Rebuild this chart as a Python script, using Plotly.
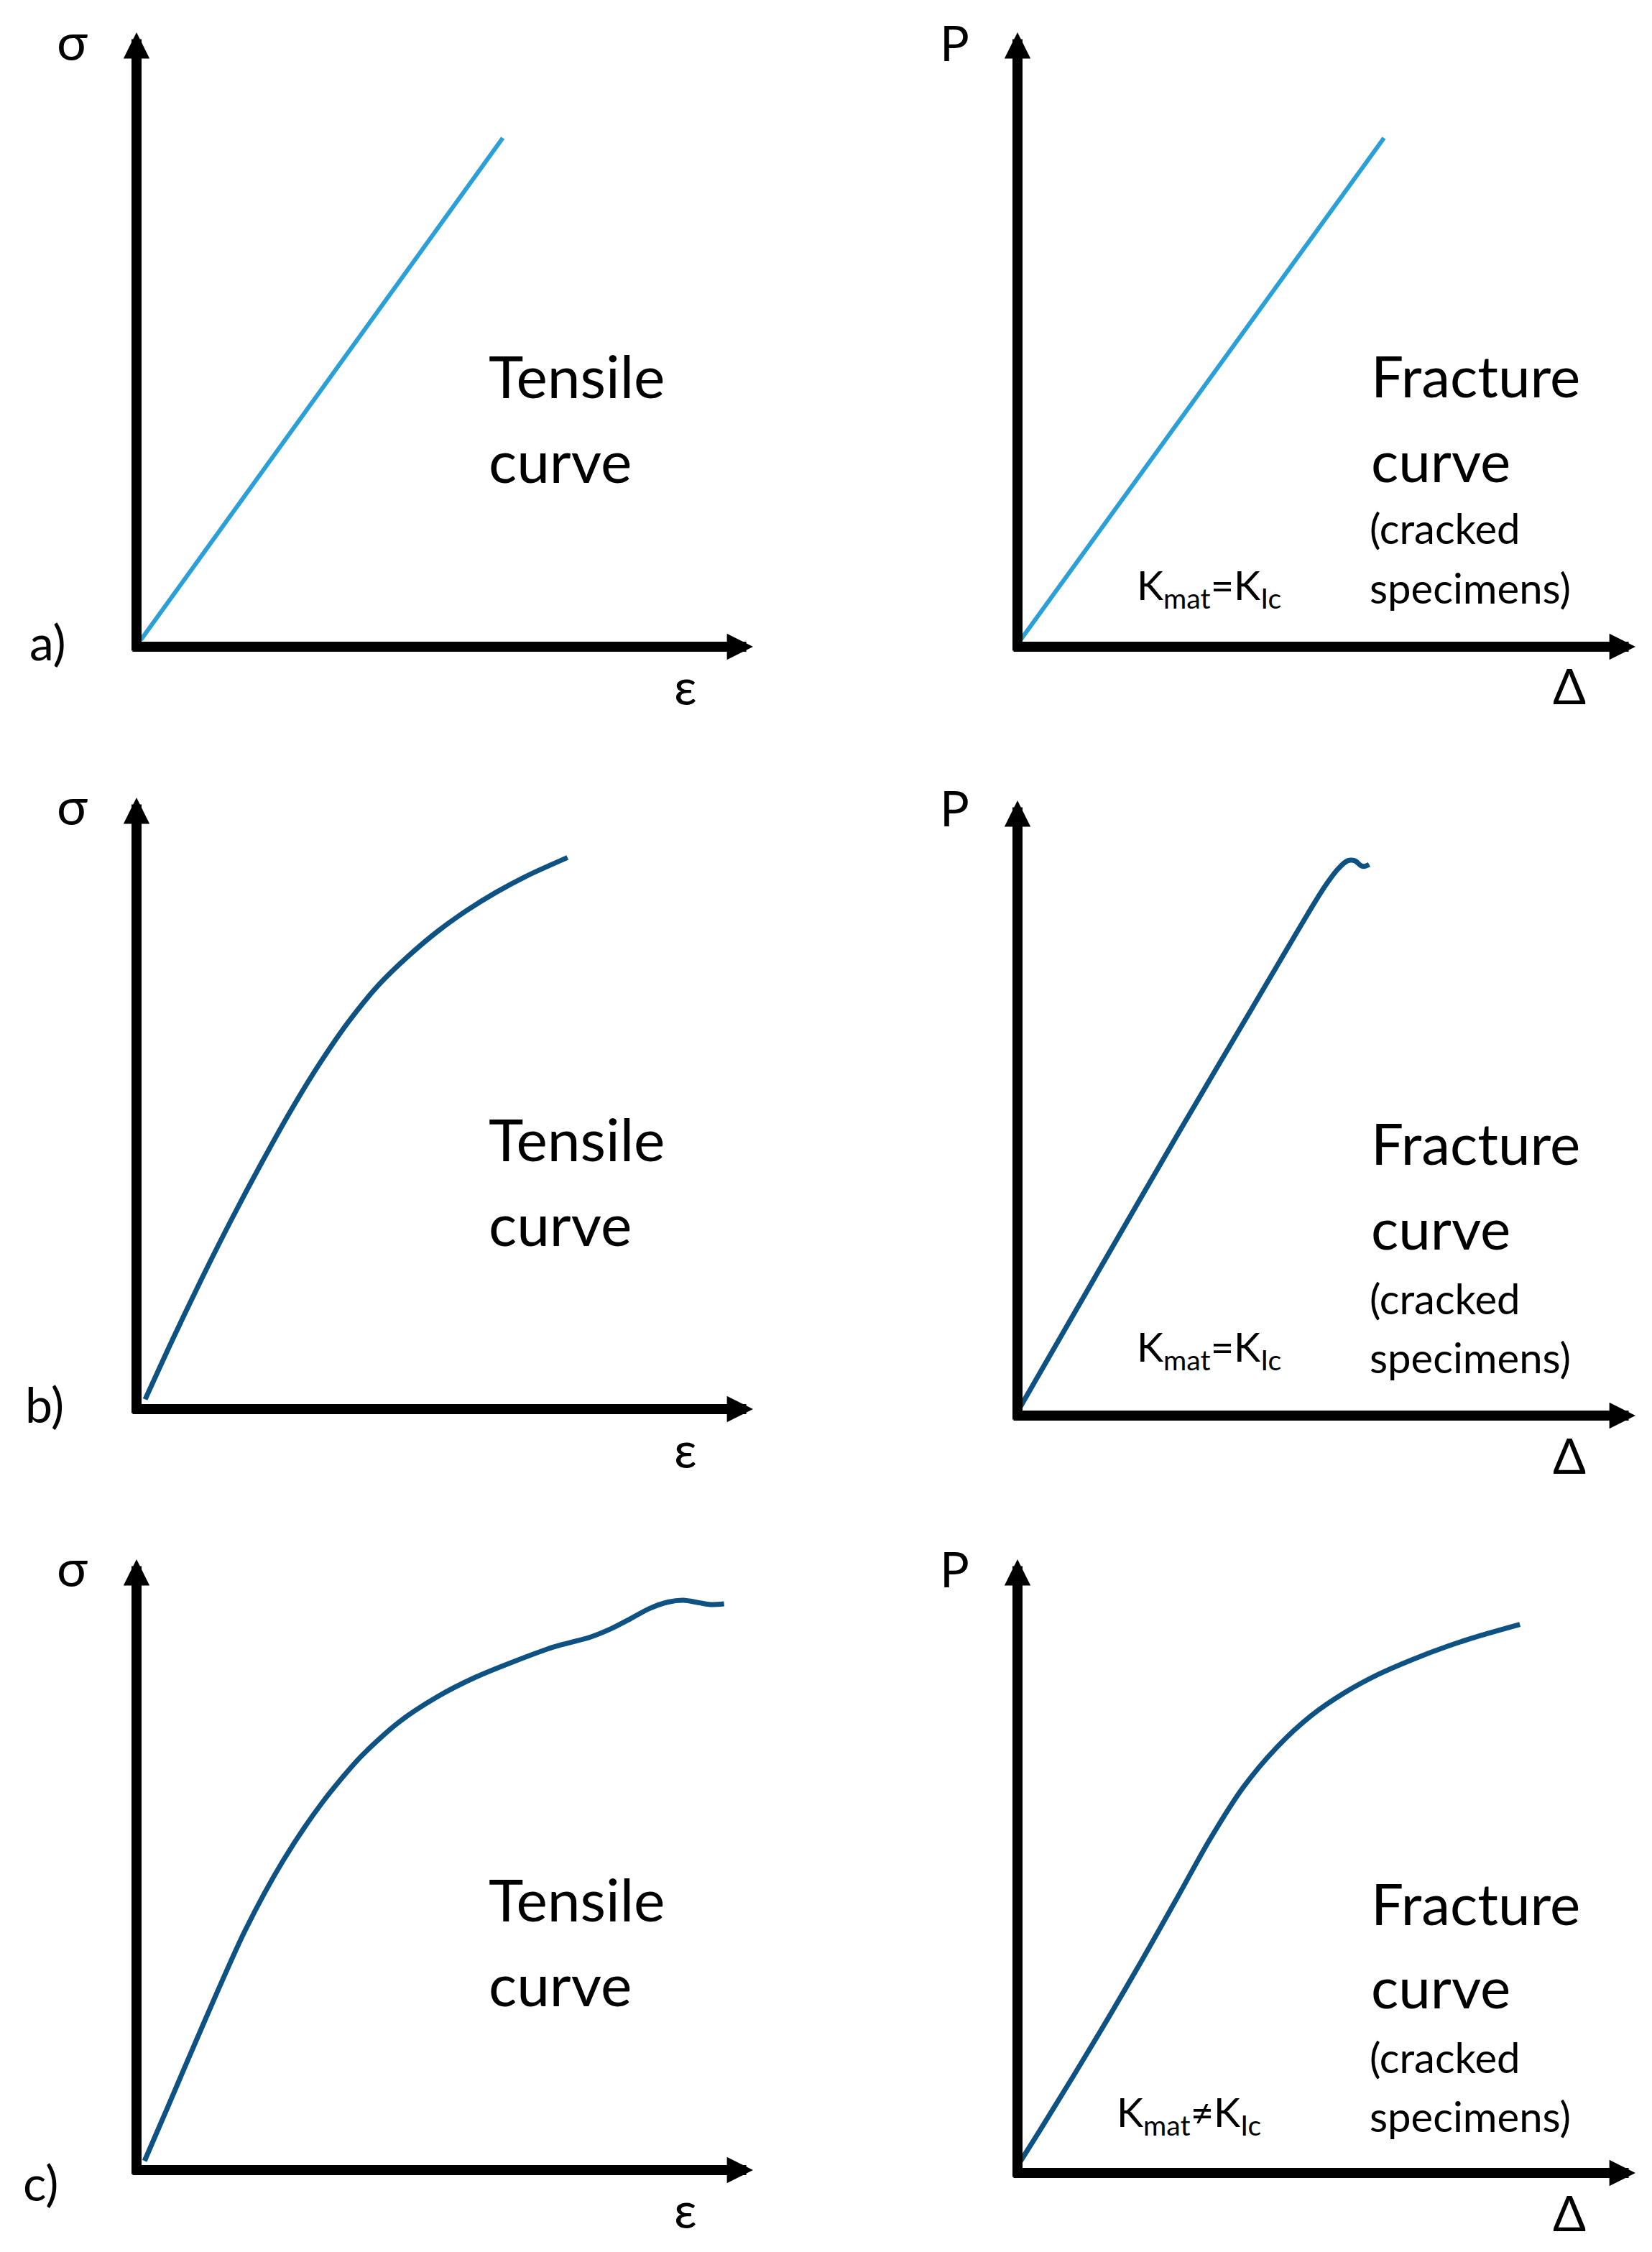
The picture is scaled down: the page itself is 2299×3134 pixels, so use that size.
import plotly.graph_objects as go

W, H = 2299, 3134
OFF = 8  # default page body margin
FIG_W, FIG_H = W - OFF, H - OFF

# ---- data (arbitrary units, 0..100 along each drawn axis) ----
# row a: linear elastic
strain_a = [0.7, 59.4]
stress_a = [1.1, 82.8]
disp_a = [0.5, 59.3]
load_a = [1.1, 82.8]

# row b: yielding tensile curve, linear fracture curve
strain_b = [1.4, 5.9, 10.7, 15.5, 20.3, 24.9, 29.7, 34.5, 39.3, 44.1, 48.8, 53.5, 58.3, 63.1, 69.9]
stress_b = [1.6, 11.5, 21.6, 31.2, 40.3, 48.6, 56.5, 63.5, 69.4, 74.1, 78.1, 81.5, 84.5, 87.1, 90.2]
disp_b = [0.4, 13.0, 26.2, 38.0, 48.2, 50.2, 51.8, 53.4, 54.6, 55.6, 56.2, 56.9]
load_b = [1.3, 23.3, 46.2, 66.3, 83.6, 86.7, 88.8, 90.2, 90.2, 89.4, 89.3, 89.6]

# row c: both non-linear
strain_c = [1.3, 5.1, 11.3, 17.6, 23.8, 30.0, 36.3, 42.5, 48.8, 55.0, 61.3, 67.5, 73.7,
            76.9, 80.0, 83.1, 86.2, 88.7, 91.2, 93.1, 95.3]
stress_c = [1.5, 10.4, 25.0, 39.2, 50.7, 60.0, 67.6, 73.3, 77.5, 80.7, 83.3, 85.6, 87.3,
            88.6, 90.2, 91.9, 93.0, 93.3, 92.9, 92.6, 92.7]
disp_c = [0.3, 3.6, 9.1, 14.6, 20.1, 25.6, 31.1, 36.5, 42.0, 47.5, 53.0, 58.5, 64.0, 69.5, 75.0, 81.3]
load_c = [1.6, 6.9, 15.9, 25.1, 34.6, 44.4, 54.3, 62.8, 69.4, 74.5, 78.3, 81.3, 83.7, 85.8, 87.6, 89.4]

row_labels = ["a)", "b)", "c)"]
k_labels = ["K<sub>mat</sub>=K<sub>Ic</sub>", "K<sub>mat</sub>=K<sub>Ic</sub>", "K<sub>mat</sub>≠K<sub>Ic</sub>"]

LIGHT_BLUE = "#2a9fd8"
DARK_BLUE = "#0d5282"
FONT = "Lato, 'Noto Sans', sans-serif"
AXW = 14

# panel frames in pixels: (x origin, x tip, y origin, y tip)
frames = [
    (190, 1048, 900, 45), (1416, 2276, 900, 45),
    (190, 1048, 1961, 1110), (1416, 2276, 1970, 1114),
    (190, 1048, 3020, 2170), (1416, 2276, 3024, 2170),
]
series = [
    (strain_a, stress_a, LIGHT_BLUE, 6, "linear"), (disp_a, load_a, LIGHT_BLUE, 6, "linear"),
    (strain_b, stress_b, DARK_BLUE, 7, "spline"), (disp_b, load_b, DARK_BLUE, 7, "spline"),
    (strain_c, stress_c, DARK_BLUE, 7, "spline"), (disp_c, load_c, DARK_BLUE, 7, "spline"),
]


def px(x):
    return (x - OFF) / FIG_W


def py(y):
    return 1 - (y - OFF) / FIG_H


fig = go.Figure()
annotations = []
layout = {}

for i, ((x0, x1, y0, y1), (xs, ys, col, lw, shape)) in enumerate(zip(frames, series)):
    n = "" if i == 0 else str(i + 1)
    layout["xaxis" + n] = dict(domain=[px(x0), px(x1)], range=[0, 100], visible=False,
                              anchor="y" + n, fixedrange=True)
    layout["yaxis" + n] = dict(domain=[py(y0), py(y1)], range=[0, 100], visible=False,
                              anchor="x" + n, fixedrange=True)
    fig.add_trace(go.Scatter(x=xs, y=ys, mode="lines", xaxis="x" + n, yaxis="y" + n,
                             line=dict(color=col, width=lw, shape=shape, smoothing=0.8),
                             showlegend=False, hoverinfo="skip"))
    ox = (AXW / 2) / (x1 - x0)
    oy = (AXW / 2) / (y0 - y1)
    for (tx, ty, sx, sy) in [(1, 0, -ox, 0), (0, 1, 0, -oy)]:
        annotations.append(dict(
            xref="x" + n + " domain", yref="y" + n + " domain",
            axref="x" + n + " domain", ayref="y" + n + " domain",
            x=tx, y=ty, ax=sx, ay=sy, text="", showarrow=True,
            arrowhead=2, arrowsize=0.52, arrowwidth=AXW, arrowcolor="black", standoff=0,
        ))


def label(text, x, y, size, xanchor="center"):
    annotations.append(dict(xref="paper", yref="paper", x=px(x), y=py(y), text=text,
                            showarrow=False, xanchor=xanchor, yanchor="middle",
                            font=dict(family=FONT, size=size, color="black")))


tensile_y = [(522, 640), (1584, 1702), (2642, 2760)]
fracture_y = [(522, 640, 734, 818, 818), (1590, 1708, 1806, 1888, 1878), (2648, 2764, 2862, 2944, 2942)]
sigma_y = [56, 1120, 2180]
eps_y = [954, 2016, 3074]
p_y = [58, 1124, 2182]
delta_y = [954, 2024, 3078]
row_y = [892, 1954, 3036]
row_x = [66, 62, 56]
k_x = [1580, 1580, 1552]

for r in range(3):
    label("σ", 100, sigma_y[r], 72)
    label("ε", 954, eps_y[r], 70)
    label("P", 1328, p_y[r], 68)
    label("Δ", 2184, delta_y[r], 68)
    label(row_labels[r], row_x[r], row_y[r], 68)
    label("Tensile", 678, tensile_y[r][0], 82, "left")
    label("curve", 678, tensile_y[r][1], 82, "left")
    label("Fracture", 1906, fracture_y[r][0], 80, "left")
    label("curve", 1906, fracture_y[r][1], 80, "left")
    label("(cracked", 1904, fracture_y[r][2], 58, "left")
    label("specimens)", 1904, fracture_y[r][3], 58, "left")
    label(k_labels[r], k_x[r], fracture_y[r][4], 56, "left")

fig.update_layout(
    width=FIG_W, height=FIG_H,
    margin=dict(l=0, r=0, t=0, b=0),
    paper_bgcolor="white", plot_bgcolor="white",
    annotations=annotations,
    **layout,
)

fig.write_html("out.html")
